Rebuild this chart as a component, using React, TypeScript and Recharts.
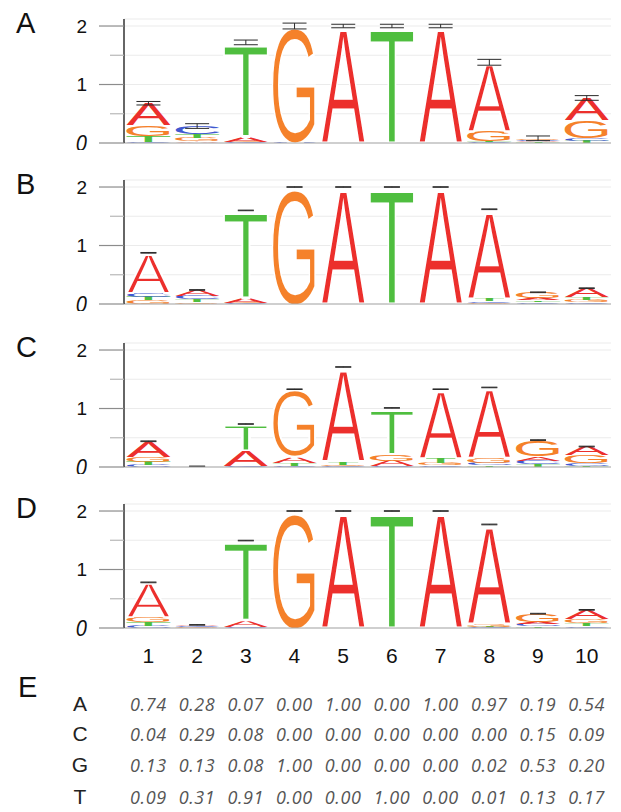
import React from 'react';
import { BarChart, Bar, XAxis, YAxis, CartesianGrid, ErrorBar } from 'recharts';

const positions = ['1', '2', '3', '4', '5', '6', '7', '8', '9', '10'];
const bases = ['A', 'C', 'G', 'T'];
const baseColors: Record<string, string> = {
  A: '#ec2f2c',
  C: '#4158d0',
  G: '#f5812a',
  T: '#4fbe3f',
};
const yTicks = [0, 0.5, 1, 1.5, 2];

// letter heights in bits
const logoA_A = [0.38, 0.03, 0.08, 0.0, 2.0, 0.0, 2.0, 1.17, 0.02, 0.38];
const logoA_C = [0.02, 0.13, 0.01, 0.01, 0.0, 0.0, 0.0, 0.01, 0.02, 0.05];
const logoA_G = [0.18, 0.06, 0.01, 1.99, 0.0, 0.0, 0.0, 0.18, 0.03, 0.3];
const logoA_T = [0.1, 0.07, 1.62, 0.0, 0.0, 2.0, 0.0, 0.02, 0.01, 0.04];
const logoA_err = [0.03, 0.04, 0.04, 0.05, 0.03, 0.03, 0.03, 0.05, 0.04, 0.04];

const logoB_A = [0.68, 0.1, 0.09, 0.0, 2.0, 0.0, 2.0, 1.53, 0.04, 0.15];
const logoB_C = [0.07, 0.06, 0.01, 0.0, 0.0, 0.0, 0.0, 0.03, 0.03, 0.03];
const logoB_G = [0.06, 0.03, 0.01, 2.0, 0.0, 0.0, 0.0, 0.02, 0.1, 0.04];
const logoB_T = [0.065, 0.05, 1.49, 0.0, 0.0, 2.0, 0.0, 0.04, 0.03, 0.05];
const logoB_err = [0.006, 0.006, 0.005, 0.005, 0.005, 0.005, 0.005, 0.006, 0.006, 0.006];

const logoC_A = [0.27, 0.004, 0.28, 0.12, 1.62, 0.1, 1.18, 1.21, 0.07, 0.15];
const logoC_C = [0.035, 0.003, 0.01, 0.01, 0.02, 0.01, 0.03, 0.04, 0.06, 0.04];
const logoC_G = [0.08, 0.002, 0.005, 1.15, 0.02, 0.12, 0.04, 0.08, 0.28, 0.14];
const logoC_T = [0.055, 0.003, 0.44, 0.05, 0.05, 0.78, 0.08, 0.03, 0.05, 0.02];
const logoC_err = [0.006, 0.004, 0.005, 0.005, 0.005, 0.005, 0.005, 0.005, 0.006, 0.006];

const logoD_A = [0.59, 0.02, 0.12, 0.0, 2.0, 0.0, 2.0, 1.7, 0.04, 0.16];
const logoD_C = [0.04, 0.015, 0.01, 0.0, 0.0, 0.0, 0.0, 0.01, 0.035, 0.03];
const logoD_G = [0.08, 0.01, 0.005, 2.0, 0.0, 0.0, 0.0, 0.05, 0.14, 0.07];
const logoD_T = [0.07, 0.008, 1.36, 0.0, 0.0, 2.0, 0.0, 0.01, 0.03, 0.05];
const logoD_err = [0.006, 0.005, 0.005, 0.005, 0.005, 0.005, 0.005, 0.006, 0.006, 0.006];

// panel E: base probabilities per position
const probA = ['0.74', '0.28', '0.07', '0.00', '1.00', '0.00', '1.00', '0.97', '0.19', '0.54'];
const probC = ['0.04', '0.29', '0.08', '0.00', '0.00', '0.00', '0.00', '0.00', '0.15', '0.09'];
const probG = ['0.13', '0.13', '0.08', '1.00', '0.00', '0.00', '0.00', '0.02', '0.53', '0.20'];
const probT = ['0.09', '0.31', '0.91', '0.00', '0.00', '1.00', '0.00', '0.01', '0.13', '0.17'];

const FONT = '"Liberation Sans", Arial, sans-serif';
const CAP = 71.6; // cap height of Liberation Sans at 100px
const bearing: Record<string, number> = { A: 0, C: 0.06, G: 0.065, T: 0.035 };

function buildRows(heights: Record<string, number[]>, err: number[]) {
  return positions.map((pos, i) => {
    const stack = bases
      .map(b => ({ b, v: heights[b][i] }))
      .sort((p, q) => p.v - q.v);
    const row: Record<string, any> = { pos, err: err[i] };
    stack.forEach((s, r) => {
      row['r' + r] = s.v;
      row['l' + r] = s.b;
    });
    return row;
  });
}

// stretches a glyph to fill the bar rectangle
function letterShape(rank: number) {
  return (props: any) => {
    const { x, y, width, height, payload } = props;
    const letter = payload['l' + rank];
    if (!height || height <= 0 || !width) return <g />;
    const b = bearing[letter] || 0;
    const len = width / (1 - 2 * b);
    // a thin white edge makes the big letters a little lighter, like the original
    const edge = height > 25 ? 2.6 : 0;
    return (
      <text
        transform={`translate(${x - b * len},${y + height}) scale(1,${height / CAP})`}
        x={0}
        y={0}
        fontFamily={FONT}
        fontSize={100}
        textLength={len}
        lengthAdjust="spacingAndGlyphs"
        fill={baseColors[letter]}
        stroke={edge ? '#ffffff' : 'none'}
        strokeWidth={edge}
        vectorEffect="non-scaling-stroke"
      >
        {letter}
      </text>
    );
  };
}

const YTick = (props: any) => {
  const { x, y, payload } = props;
  const v = payload.value;
  const major = Number.isInteger(v);
  return (
    <g>
      <line
        x1={x - (major ? 25 : 14)}
        x2={x}
        y1={y}
        y2={y}
        stroke={major ? '#8c8c8c' : '#b8b8b8'}
        strokeWidth={1.2}
      />
      {major && (
        <text
          x={x - 37}
          y={y}
          dy="0.36em"
          textAnchor="end"
          fontFamily={v === 0 ? '"Open Sans", sans-serif' : FONT}
          fontSize={v === 0 ? 21 : 19}
          fontStyle={v === 0 ? 'italic' : 'normal'}
          fill="#111"
        >
          {v}
        </text>
      )}
    </g>
  );
};

interface PanelProps {
  label: string;
  top: number;
  heights: Record<string, number[]>;
  err: number[];
  capWidth: number;
  showPositions?: boolean;
}

function LogoPanel({ label, top, heights, err, capWidth, showPositions }: PanelProps) {
  const data = buildRows(heights, err);
  const axisH = showPositions ? 47 : 7;
  return (
    <div style={{ position: 'absolute', left: 0, top }}>
      <div
        style={{
          position: 'absolute',
          left: 16,
          top: 6,
          fontFamily: FONT,
          fontSize: 29,
          lineHeight: '34px',
          color: '#111',
        }}
      >
        {label}
      </div>
      <BarChart
        width={621}
        height={150 + axisH - 7}
        data={data}
        margin={{ top: 19, right: 10, bottom: 0, left: 0 }}
        barCategoryGap="5%"
      >
        <CartesianGrid vertical={false} stroke="#ebebeb" />
        <XAxis
          dataKey="pos"
          height={axisH}
          tickLine={false}
          tickSize={0}
          tickMargin={20}
          axisLine={{ stroke: '#aaaaaa', strokeWidth: 1.2 }}
          tick={showPositions ? { fontSize: 21, fill: '#111', fontFamily: FONT } : false}
        />
        <YAxis
          width={124}
          domain={[0, 2.12]}
          ticks={yTicks}
          interval={0}
          allowDataOverflow
          tickLine={false}
          tickSize={0}
          tickMargin={0}
          axisLine={{ stroke: '#333', strokeWidth: 1.5 }}
          tick={<YTick />}
        />
        <Bar dataKey="r0" stackId="s" shape={letterShape(0)} isAnimationActive={false} />
        <Bar dataKey="r1" stackId="s" shape={letterShape(1)} isAnimationActive={false} />
        <Bar dataKey="r2" stackId="s" shape={letterShape(2)} isAnimationActive={false} />
        <Bar dataKey="r3" stackId="s" shape={letterShape(3)} isAnimationActive={false}>
          <ErrorBar
            dataKey="err"
            width={capWidth}
            stroke="#2a2a2a"
            strokeWidth={1}
            direction="y"
            isAnimationActive={false}
          />
        </Bar>
      </BarChart>
    </div>
  );
}

const tableRows = [
  { base: 'A', values: probA, top: 692 },
  { base: 'C', values: probC, top: 722 },
  { base: 'G', values: probG, top: 753 },
  { base: 'T', values: probT, top: 785 },
];

export default function App() {
  return (
    <div
      style={{
        position: 'absolute',
        left: 0,
        top: 0,
        width: 621,
        height: 812,
        background: '#fff',
        overflow: 'hidden',
      }}
    >
      <LogoPanel
        label="A"
        top={0}
        heights={{ A: logoA_A, C: logoA_C, G: logoA_G, T: logoA_T }}
        err={logoA_err}
        capWidth={12}
      />
      <LogoPanel
        label="B"
        top={161}
        heights={{ A: logoB_A, C: logoB_C, G: logoB_G, T: logoB_T }}
        err={logoB_err}
        capWidth={8}
      />
      <LogoPanel
        label="C"
        top={324}
        heights={{ A: logoC_A, C: logoC_C, G: logoC_G, T: logoC_T }}
        err={logoC_err}
        capWidth={8}
      />
      <LogoPanel
        label="D"
        top={485}
        heights={{ A: logoD_A, C: logoD_C, G: logoD_G, T: logoD_T }}
        err={logoD_err}
        capWidth={8}
        showPositions
      />

      <div
        style={{
          position: 'absolute',
          left: 18,
          top: 670,
          fontFamily: FONT,
          fontSize: 29,
          lineHeight: '34px',
          color: '#111',
        }}
      >
        E
      </div>
      {tableRows.map(row => (
        <div key={row.base} style={{ position: 'absolute', left: 0, top: row.top, height: 24 }}>
          <div
            style={{
              position: 'absolute',
              left: 67,
              width: 26,
              textAlign: 'center',
              fontFamily: FONT,
              fontSize: 21,
              lineHeight: '24px',
              color: '#222',
            }}
          >
            {row.base}
          </div>
          {row.values.map((v, i) => (
            <div
              key={i}
              style={{
                position: 'absolute',
                left: 124 + i * 48.7 - 6,
                width: 60.7,
                textAlign: 'center',
                fontFamily: '"Open Sans", sans-serif',
                fontStyle: 'italic',
                fontWeight: 400,
                fontSize: 18,
                letterSpacing: 0.6,
                lineHeight: '24px',
                color: '#555',
                whiteSpace: 'nowrap',
              }}
            >
              {v}
            </div>
          ))}
        </div>
      ))}
    </div>
  );
}
